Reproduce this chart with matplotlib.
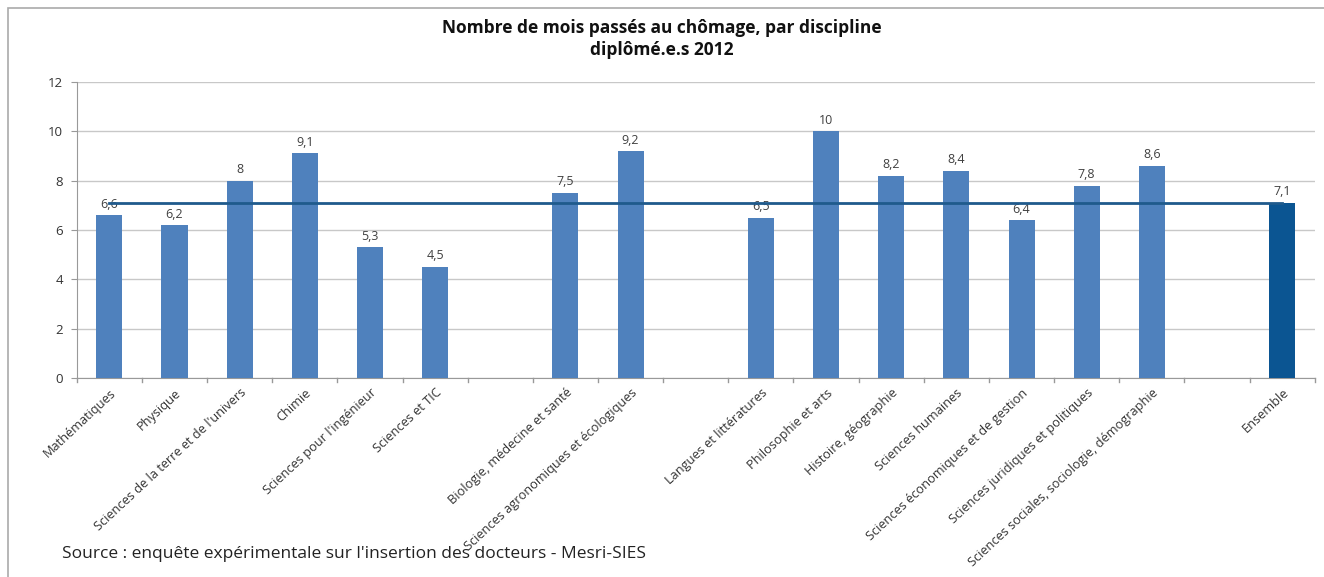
import matplotlib
matplotlib.use("Agg")
import matplotlib.pyplot as plt
from matplotlib.patches import Rectangle
import numpy as np

categories = ["Mathématiques", "Physique", "Sciences de la terre et de l'univers", "Chimie",
              "Sciences pour l'ingénieur", "Sciences et TIC", "",
              "Biologie, médecine et santé", "Sciences agronomiques et écologiques", "",
              "Langues et littératures", "Philosophie et arts", "Histoire, géographie",
              "Sciences humaines", "Sciences économiques et de gestion",
              "Sciences juridiques et politiques", "Sciences sociales, sociologie, démographie", "",
              "Ensemble"]
values = [6.6, 6.2, 8, 9.1, 5.3, 4.5, None, 7.5, 9.2, None,
          6.5, 10, 8.2, 8.4, 6.4, 7.8, 8.6, None, 7.1]
average = 7.1
yticks = [0, 2, 4, 6, 8, 10, 12]

plt.rcParams['font.family'] = ['Open Sans', 'DejaVu Sans']

fig = plt.figure(figsize=(13.24, 5.77), dpi=100)
ax = fig.add_axes([0.058, 0.345, 0.935, 0.513])

x = np.arange(len(categories))
bar_color = "#4f81bd"
dark = "#0b5592"
for xi, v, c in zip(x, values, categories):
    if v is None:
        continue
    col = dark if c == "Ensemble" else bar_color
    ax.bar(xi, v, width=0.4, color=col, zorder=3)
    lab = ("%g" % v).replace(".", ",")
    ax.text(xi, v + 0.18, lab, ha="center", va="bottom", fontsize=9, color="#404040", zorder=4)

ax.plot([x[0], x[-1]], [average, average], color="#1f5a8c", lw=2, zorder=5)

ax.set_xlim(-0.5, len(categories) - 0.5)
ax.set_ylim(0, 12)
ax.set_yticks(yticks)
ax.set_yticklabels([str(t) for t in yticks], fontsize=9.5, color="#333333")
ax.yaxis.grid(True, color="#c8c8c8", lw=1, zorder=0)
ax.tick_params(axis="y", length=4, color="#999999", pad=6)

ax.set_xticks(x)
ax.set_xticklabels(categories, rotation=43, ha="right", rotation_mode="anchor", fontsize=9.2, color="#333333")
ax.tick_params(axis="x", length=0, pad=6)
for b in np.arange(-0.5, len(categories) + 0.5, 1):
    ax.plot([b, b], [0, -0.18], color="#999999", lw=1, clip_on=False, zorder=2)

for s in ["top", "right"]:
    ax.spines[s].set_visible(False)
ax.spines["left"].set_color("#999999")
ax.spines["bottom"].set_color("#999999")

fig.text(0.5, 0.951, "Nombre de mois passés au chômage, par discipline", ha="center", va="center",
         fontsize=12.5, fontweight="bold", color="#111111")
fig.text(0.5, 0.914, "diplômé.e.s 2012", ha="center", va="center",
         fontsize=12.5, fontweight="bold", color="#111111")
fig.text(0.047, 0.04, "Source : enquête expérimentale sur l'insertion des docteurs - Mesri-SIES",
         ha="left", va="center", fontsize=12.5, color="#222222", zorder=10)

fig.patches.append(Rectangle((0.006, -0.01), 1.0, 0.997, transform=fig.transFigure,
                             fill=False, edgecolor="#aaaaaa", lw=1.2))

fig.savefig("out.png", dpi=100)
